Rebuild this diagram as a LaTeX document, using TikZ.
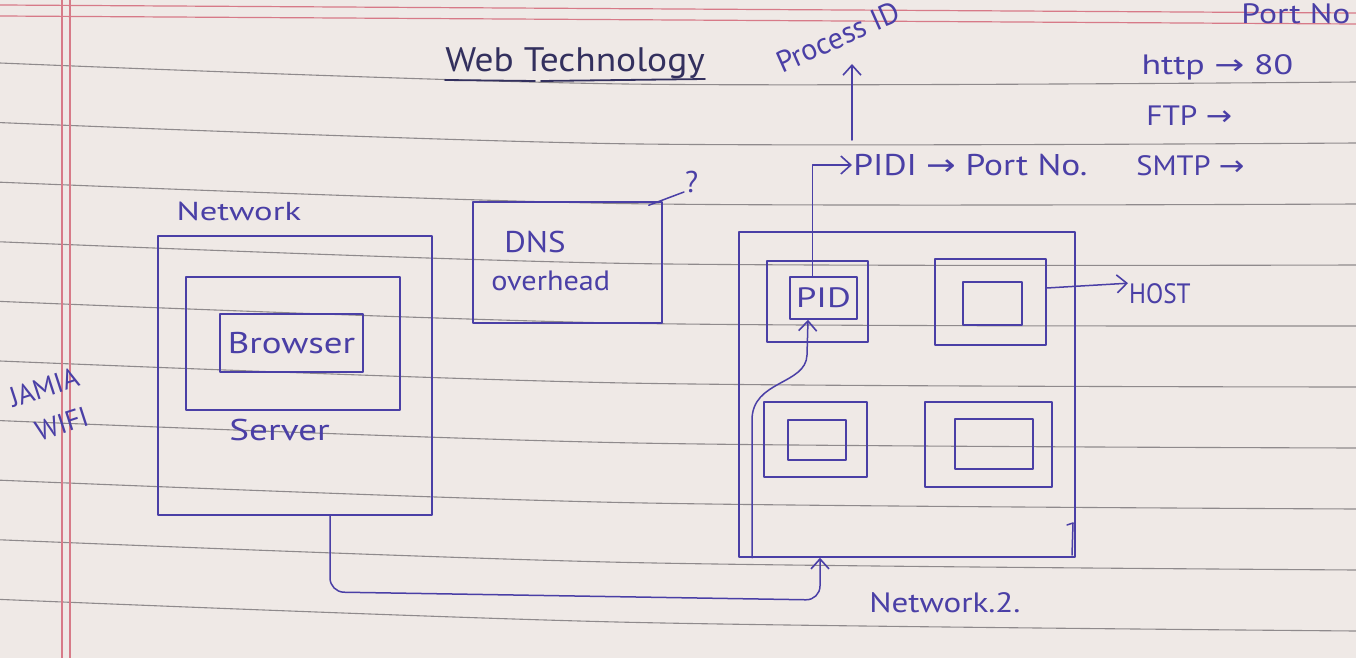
\documentclass[tikz,border=0pt]{standalone}
\usepackage{fontspec}
\setmainfont{PT Sans}
\newfontfamily\arrowfont{DejaVu Sans}
\usetikzlibrary{arrows.meta}
\definecolor{paper}{HTML}{EFE9E6}
\definecolor{rulegrey}{HTML}{8F8A8C}
\definecolor{marginred}{HTML}{D77A88}
\definecolor{ink}{HTML}{4A3FA6}
\definecolor{darkink}{HTML}{33305E}
\newcommand\fsz[1]{\fontsize{#1}{#1}\selectfont}
\newcommand\rarr{{\arrowfont\char"2192}}

\begin{document}
\begin{tikzpicture}[x=1pt,y=-1pt,
  pen/.style={draw=ink, line width=1.5pt, line cap=round, line join=round},
  box/.style={pen, rectangle, inner sep=0pt},
  hand/.style={text=ink, inner sep=1pt, anchor=base west},
  conn/.style={pen, -{Straight Barb[length=10pt,width=18pt,line width=1.6pt]}},
]
% paper
\fill[paper] (0,0) rectangle (1356,658);
\useasboundingbox (0,0) rectangle (1356,658);
\clip (0,0) rectangle (1356,658);

% ruled lines
\foreach \i in {0,...,9}
  \draw[rulegrey, line width=1.1pt] plot[smooth] coordinates
    {(0,{63+59.6*\i}) (625,{84+59.8*\i}) (1356,{82+61*\i})};
% margin lines
\draw[marginred, line width=1.2pt] (0,5) -- (1356,13);
\draw[marginred, line width=1.2pt] (0,16) -- (1356,24);
\draw[marginred, line width=1.2pt] (62,0) -- (62,658);
\draw[marginred, line width=1.2pt] (70,0) -- (70,658);

% title
\node[hand, text=darkink, font=\fsz{34}, anchor=base, xscale=1.1] (title) at (575,72) {Web Technology};
\draw[darkink, line width=1.8pt, line cap=round] (445,80) -- (535,81);
\draw[darkink, line width=1.8pt, line cap=round] (541,81) -- (705,79);

% first network
\node[box, minimum width=274pt, minimum height=279pt] (net) at (295,375.5) {};
\node[box, minimum width=214pt, minimum height=133pt] (server) at (293,343.5) {};
\node[box, minimum width=143pt, minimum height=58pt] (browser) at (291.5,343) {};
\node[text=ink, font=\fsz{30}, xscale=1.23] (browserlbl) at (browser) {Browser};
\node[hand, font=\fsz{26}, xscale=1.33] (netlbl) at (175,220) {Network};
\node[hand, font=\fsz{30}, xscale=1.24] (serverlbl) at (228,440) {Server};
\node[hand, font=\fsz{28}, rotate=18] (jamia) at (12,408) {JAMIA};
\node[hand, font=\fsz{28}, rotate=18] (wifi) at (38,442) {WIFI};

% DNS
\node[box, minimum width=189pt, minimum height=121pt] (dns) at (567.5,262.5) {};
\node[hand, font=\fsz{30}, xscale=1.1] (dnslbl) at (503,252) {DNS};
\node[hand, font=\fsz{28}, xscale=1.08] (overhead) at (490,290) {overhead};
\node[hand, font=\fsz{30}] (q) at (684,192) {?};
\draw[pen] ([xshift=-14pt,yshift=-4pt]dns.north east) -- (q.base west);

% second network with hosts
\node[box, minimum width=336pt, minimum height=325pt] (n2) at (907,394.5) {};
\node[box, minimum width=101pt, minimum height=81pt] (h1) at (817.5,301.5) {};
\node[box, minimum width=67pt, minimum height=42pt] (pid) at (823.5,298) {};
\node[text=ink, font=\fsz{28}, xscale=1.3] (pidlbl) at (pid) {PID};
\node[box, minimum width=111pt, minimum height=86pt] (h2) at (990.5,302) {};
\node[box, minimum width=59pt, minimum height=43pt] (h2in) at (992.5,303.5) {};
\node[box, minimum width=103pt, minimum height=75pt] (h3) at (815.5,439.5) {};
\node[box, minimum width=58pt, minimum height=40pt] (h3in) at (817,440) {};
\node[box, minimum width=127pt, minimum height=85pt] (h4) at (988.5,444.5) {};
\node[box, minimum width=78pt, minimum height=50pt] (h4in) at (994,444) {};
\draw[pen] (1067,525) -- (1073,523) -- (1072,555);

\node[hand, font=\fsz{28}, xscale=0.9] (host) at (1128,303) {HOST};
\draw[conn] ([yshift=14pt]h2.east) -- ([yshift=10pt]host.west);
\node[hand, font=\fsz{28}, xscale=1.18] (n2lbl) at (868,612) {Network.2.};

% process id and ports
\node[hand, font=\fsz{30}, xscale=1.18] (pidi) at (852,175) {PIDI \rarr{} Port No.};
\draw[conn] ([xshift=-11pt]pid.north) |- ([yshift=10pt]pidi.base west);
\node[hand, font=\fsz{30}, rotate=24] (proc) at (781,74) {Process ID};
\coordinate (procend) at (852,64);
\draw[conn] (852,140) -- (procend);

\node[hand, font=\fsz{28}, xscale=1.2] (portno) at (1240,24) {Port No};
\node[hand, font=\fsz{28}, xscale=1.28] (http) at (1140,75) {http \rarr{} 80};
\node[hand, font=\fsz{28}, xscale=1.12] (ftp) at (1145,125) {FTP \rarr};
\node[hand, font=\fsz{28}, xscale=1.09] (smtp) at (1135,175) {SMTP \rarr};

% links
\draw[conn, rounded corners=14pt] ([xshift=35pt]net.south) -- (330,592) -- (820,600) -- (n2.south -| 820,0);
\draw[conn] (n2.south -| 752,0) -- (752,420) .. controls (752,380) and (806,385) .. (807,355) -- (pid.south -| 808,0);
\end{tikzpicture}
\end{document}
